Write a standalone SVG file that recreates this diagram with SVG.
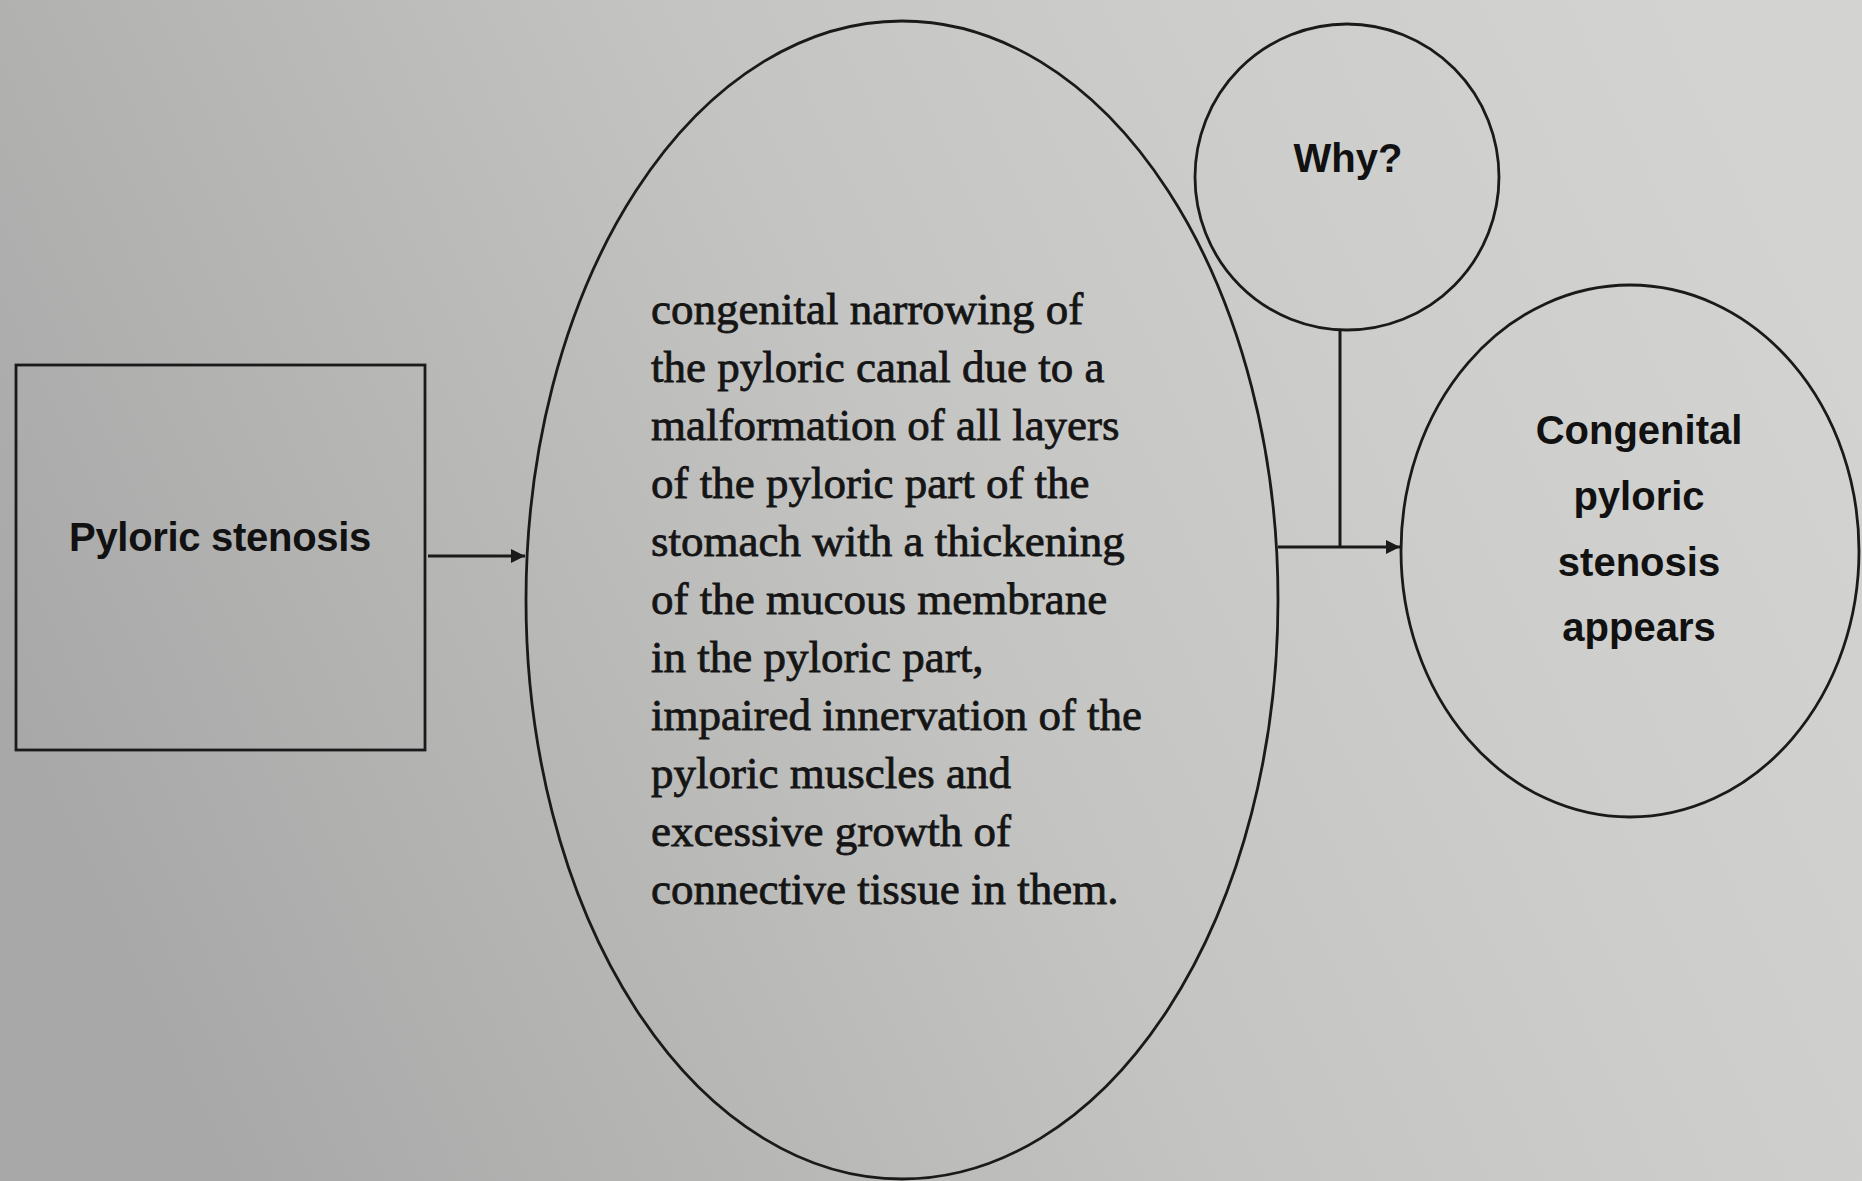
<svg xmlns="http://www.w3.org/2000/svg" width="1862" height="1181" viewBox="0 0 1862 1181">
<defs>
<linearGradient id="bg" x1="0" y1="0.6" x2="1" y2="0.3">
<stop offset="0" stop-color="#a8a8a8"/>
<stop offset="0.25" stop-color="#b6b6b5"/>
<stop offset="0.5" stop-color="#c4c4c3"/>
<stop offset="0.75" stop-color="#cdcdcb"/>
<stop offset="1" stop-color="#d3d3d1"/>
</linearGradient>
<marker id="ah" viewBox="0 0 10 10" refX="10" refY="5" markerWidth="20" markerHeight="14" markerUnits="userSpaceOnUse" orient="auto">
<path d="M0,0 L10,5 L0,10 z" fill="#1a1a1a"/>
</marker>
<style>
.shape{fill:none;stroke:#1a1a1a;stroke-width:2.8}
.conn{fill:none;stroke:#1a1a1a;stroke-width:3}
.lbl{font-family:"Liberation Sans",Arial,sans-serif;font-weight:bold;font-size:40px;fill:#111;text-anchor:middle}
.body{font-family:"Liberation Serif","Times New Roman",serif;font-size:45px;fill:#151515;stroke:#151515;stroke-width:0.8}
</style>
</defs>
<rect width="1862" height="1181" fill="url(#bg)"/>
<g id="connectors">
<line class="conn" x1="428" y1="556" x2="525" y2="556" marker-end="url(#ah)"/>
<line class="conn" x1="1278" y1="547" x2="1400" y2="547" marker-end="url(#ah)"/>
<line class="conn" x1="1340" y1="330" x2="1340" y2="547"/>
</g>
<g id="node-pyloric-stenosis">
<rect class="shape" x="16" y="365" width="409" height="385" stroke-width="3.5"/>
<text class="lbl" x="220" y="551" letter-spacing="-0.3">Pyloric stenosis</text>
</g>
<g id="node-definition">
<ellipse class="shape" cx="902" cy="600" rx="376" ry="579"/>
<text class="body" x="651">
<tspan x="651" y="324">congenital narrowing of</tspan>
<tspan x="651" y="382">the pyloric canal due to a</tspan>
<tspan x="651" y="440">malformation of all layers</tspan>
<tspan x="651" y="498">of the pyloric part of the</tspan>
<tspan x="651" y="556">stomach with a thickening</tspan>
<tspan x="651" y="614">of the mucous membrane</tspan>
<tspan x="651" y="672">in the pyloric part,</tspan>
<tspan x="651" y="730">impaired innervation of the</tspan>
<tspan x="651" y="788">pyloric muscles and</tspan>
<tspan x="651" y="846">excessive growth of</tspan>
<tspan x="651" y="904">connective tissue in them.</tspan>
</text>
</g>
<g id="node-why">
<ellipse class="shape" cx="1347" cy="177" rx="152" ry="153"/>
<text class="lbl" x="1348" y="172">Why?</text>
</g>
<g id="node-congenital">
<ellipse class="shape" cx="1630" cy="551" rx="229" ry="266"/>
<text class="lbl" x="1639" y="444">Congenital</text>
<text class="lbl" x="1639" y="510">pyloric</text>
<text class="lbl" x="1639" y="576">stenosis</text>
<text class="lbl" x="1639" y="641">appears</text>
</g>
</svg>
